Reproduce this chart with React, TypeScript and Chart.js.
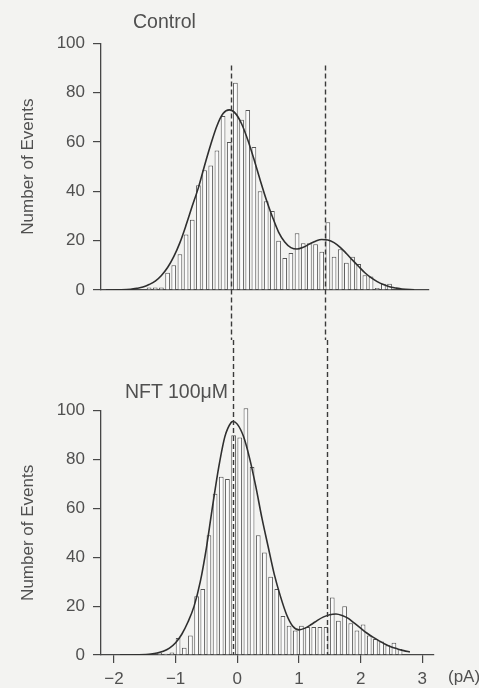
import React, { useEffect, useRef } from "react";
import { Chart, registerables } from "chart.js";

Chart.register(...registerables);

// ---------- data ----------
const Y_TICKS = [0, 20, 40, 60, 80, 100];
const X_TICKS = [-2, -1, 0, 1, 2, 3];

// Control panel
const CONTROL_BINS = [
  -1.4, -1.3, -1.2, -1.1, -1.0, -0.9, -0.8, -0.7, -0.6, -0.5,
  -0.4, -0.3, -0.2, -0.1, 0.0, 0.1, 0.2, 0.3, 0.4, 0.5,
  0.6, 0.7, 0.8, 0.9, 1.0, 1.1, 1.2, 1.3, 1.4, 1.5,
  1.6, 1.7, 1.8, 1.9, 2.0, 2.1, 2.2, 2.3, 2.4, 2.5,
];
const CONTROL_COUNTS = [
  1, 1, 1, 7, 10, 14.5, 22.5, 28.5, 42.5, 48.5,
  50.5, 56.5, 70.5, 60, 84, 69, 73, 58, 40, 36,
  32, 20, 13, 15, 23, 19, 19, 18.5, 15.5, 27.5,
  13.5, 16.5, 11, 13.5, 10.5, 6, 5.5, 0.8, 2.5, 2.5,
];
const CONTROL_FIT_X = [
  -2.1, -1.9, -1.7, -1.6, -1.5, -1.4, -1.3, -1.2, -1.1, -1.0,
  -0.9, -0.8, -0.7, -0.6, -0.5, -0.4, -0.3, -0.2, -0.1, 0.0,
  0.1, 0.2, 0.3, 0.4, 0.5, 0.6, 0.7, 0.8, 0.9, 1.0,
  1.1, 1.2, 1.3, 1.4, 1.5, 1.6, 1.7, 1.8, 1.9, 2.0,
  2.1, 2.2, 2.3, 2.4, 2.5, 2.6, 2.7, 2.9,
];
const CONTROL_FIT_Y = [
  0, 0.1, 0.3, 0.67, 1.2, 2.2, 3.6, 5.9, 9.1, 13.5,
  19.2, 26.3, 34, 41.5, 50.5, 59, 66.5, 71.5, 73, 71.6,
  67.4, 60.9, 53.1, 44.7, 36.7, 29.7, 23.5, 19.5, 17.2, 16.6,
  17.3, 18.6, 19.8, 20.5, 20.3, 19.2, 17.3, 14.8, 12.1, 9.5,
  7.0, 5.0, 3.4, 2.2, 1.3, 0.8, 0.4, 0.1,
];
const CONTROL_PEAKS = [-0.07, 1.46];

// NFT 100µM panel
const NFT_BINS = [
  -1.26, -1.16, -1.06, -0.96, -0.86, -0.76, -0.66, -0.56, -0.46, -0.36,
  -0.26, -0.16, -0.06, 0.04, 0.14, 0.24, 0.34, 0.44, 0.54, 0.64,
  0.74, 0.84, 0.94, 1.04, 1.14, 1.24, 1.34, 1.44, 1.54, 1.64,
  1.74, 1.84, 1.94, 2.04, 2.14, 2.24, 2.34, 2.44, 2.54, 2.64,
];
const NFT_COUNTS = [
  1, 0.5, 1, 7, 3, 8, 24, 27, 49, 66,
  73, 72, 90, 89, 101, 77, 49, 42, 32, 27,
  16, 12, 10, 12, 11.5, 11.5, 11.5, 11.5, 23.5, 14,
  20, 13, 10, 12.5, 8, 6.5, 5.5, 4, 5, 2.5,
];
const NFT_FIT_X = [
  -1.9, -1.6, -1.4, -1.3, -1.2, -1.1, -1.0, -0.9, -0.8, -0.7,
  -0.6, -0.5, -0.4, -0.3, -0.2, -0.1, -0.07, 0.0, 0.1, 0.2,
  0.3, 0.4, 0.5, 0.6, 0.7, 0.8, 0.9, 1.0, 1.1, 1.2,
  1.3, 1.4, 1.5, 1.6, 1.7, 1.8, 1.9, 2.0, 2.1, 2.2,
  2.3, 2.4, 2.5, 2.6, 2.7, 2.8,
];
const NFT_FIT_Y = [
  0, 0.1, 0.4, 0.8, 1.5, 2.8, 5, 8.5, 13.5, 20,
  30, 44, 61, 77, 89.5, 95.2, 95.6, 94.5, 89.5, 80.5,
  69, 56, 44.4, 33, 24, 16.5, 11.8, 10.3, 11, 12.5,
  14.2, 15.6, 16.5, 16.8, 16.2, 15, 13, 11, 9, 7.3,
  5.8, 4.4, 3.3, 2.5, 1.8, 1.2,
];
const NFT_PEAKS = [-0.07, 1.46];

// ---------- styling ----------
const FONT = "'Liberation Sans', Arial, Helvetica, sans-serif";
const TEXT = "#505050";
const AXIS = "#474747";
const BG = "#f3f3f1";

const peakLines = {
  id: "peakLines",
  afterDatasetsDraw(chart: any, _args: any, opts: any) {
    const { ctx } = chart;
    const x = chart.scales.x;
    const y = chart.scales.y;
    const y0 = opts.fromValue != null ? y.getPixelForValue(opts.fromValue) : 0;
    const y1 = opts.toCanvasBottom ? chart.height : y.getPixelForValue(0);
    ctx.save();
    ctx.setLineDash([5, 3]);
    ctx.lineWidth = 1.4;
    ctx.strokeStyle = "#3a3a3a";
    (opts.values || []).forEach((v: number) => {
      const px = Math.round(x.getPixelForValue(v)) + 0.5;
      ctx.beginPath();
      ctx.moveTo(px, y0);
      ctx.lineTo(px, y1);
      ctx.stroke();
    });
    ctx.restore();
  },
};

function fmtTick(v: number) {
  return v < 0 ? "\u2212" + Math.abs(v) : String(v);
}

interface PanelProps {
  bins: number[];
  counts: number[];
  fitX: number[];
  fitY: number[];
  peaks: number[];
  xMin: number;
  xMax: number;
  showXTicks: boolean;
  height: number;
  padding: { top: number; bottom: number; left: number; right: number };
  xAxisHeight: number;
  dashFrom: number | null;
  dashToCanvasBottom: boolean;
}

function Panel(p: PanelProps) {
  const ref = useRef<HTMLCanvasElement | null>(null);
  useEffect(() => {
    if (!ref.current) return;
    const chart = new Chart(ref.current, {
      data: {
        datasets: [
          {
            type: "line",
            data: p.fitX.map((x, i) => ({ x, y: p.fitY[i] })),
            borderColor: "#2f2f2f",
            borderWidth: 1.6,
            pointRadius: 0,
            fill: false,
            cubicInterpolationMode: "monotone",
            order: 0,
          } as any,
          {
            type: "bar",
            data: p.bins.map((x, i) => ({ x, y: p.counts[i] })),
            backgroundColor: "#fbfbfb",
            borderColor: "#555555",
            borderWidth: 1,
            barPercentage: 0.76,
            categoryPercentage: 1,
            clip: false,
            order: 1,
          } as any,
        ],
      },
      options: {
        responsive: false,
        animation: false,
        layout: { padding: p.padding },
        plugins: {
          legend: { display: false },
          tooltip: { enabled: false },
          title: { display: false },
          peakLines: {
            values: p.peaks,
            fromValue: p.dashFrom,
            toCanvasBottom: p.dashToCanvasBottom,
          },
        } as any,
        scales: {
          x: {
            type: "linear",
            min: p.xMin,
            max: p.xMax,
            offset: false,
            afterBuildTicks: (s: any) => {
              s.ticks = X_TICKS.map((v) => ({ value: v }));
            },
            afterFit: (s: any) => {
              s.height = p.xAxisHeight;
            },
            grid: {
              display: true,
              offset: false,
              drawOnChartArea: false,
              drawTicks: p.showXTicks,
              tickLength: 8,
              color: AXIS,
              lineWidth: 1.2,
            },
            border: { display: true, color: AXIS, width: 1.3 },
            ticks: {
              display: p.showXTicks,
              padding: 6,
              autoSkip: false,
              maxRotation: 0,
              color: TEXT,
              font: { family: FONT, size: 17 },
              callback: (v: any) => fmtTick(Number(v)),
            },
          },
          y: {
            type: "linear",
            min: 0,
            max: 100,
            afterBuildTicks: (s: any) => {
              s.ticks = Y_TICKS.map((v) => ({ value: v }));
            },
            afterFit: (s: any) => {
              s.width = 101;
            },
            grid: {
              display: true,
              drawOnChartArea: false,
              drawTicks: true,
              tickLength: 8,
              color: AXIS,
              lineWidth: 1.2,
            },
            border: { display: true, color: AXIS, width: 1.3 },
            ticks: {
              padding: 8,
              color: TEXT,
              font: { family: FONT, size: 17 },
            },
            title: {
              display: true,
              text: "Number of Events",
              color: TEXT,
              font: { family: FONT, size: 17 },
              padding: { top: 18, bottom: 0 },
            },
          },
        },
      } as any,
      plugins: [peakLines as any],
    });
    return () => chart.destroy();
  }, []);
  return <canvas ref={ref} width={479} height={p.height} style={{ display: "block" }} />;
}

const labelStyle: React.CSSProperties = {
  position: "absolute",
  fontFamily: FONT,
  color: TEXT,
  lineHeight: 1,
  whiteSpace: "nowrap",
};

export default function App() {
  return (
    <div
      style={{
        position: "absolute",
        left: 0,
        top: 0,
        width: 479,
        height: 688,
        background: BG,
        overflow: "hidden",
      }}
    >
      <div style={{ position: "absolute", left: 0, top: 0, width: 479, height: 340 }}>
        <Panel
          bins={CONTROL_BINS}
          counts={CONTROL_COUNTS}
          fitX={CONTROL_FIT_X}
          fitY={CONTROL_FIT_Y}
          peaks={CONTROL_PEAKS}
          xMin={-2.18}
          xMax={3.14}
          showXTicks={false}
          height={340}
          padding={{ top: 43.3, bottom: 50, left: 0, right: 50 }}
          xAxisHeight={0}
          dashFrom={91}
          dashToCanvasBottom={true}
        />
      </div>
      <div style={{ position: "absolute", left: 0, top: 340, width: 479, height: 348 }}>
        <Panel
          bins={NFT_BINS}
          counts={NFT_COUNTS}
          fitX={NFT_FIT_X}
          fitY={NFT_FIT_Y}
          peaks={NFT_PEAKS}
          xMin={-2.21}
          xMax={3.19}
          showXTicks={true}
          height={348}
          padding={{ top: 70.7, bottom: 0, left: 0, right: 45 }}
          xAxisHeight={33}
          dashFrom={null}
          dashToCanvasBottom={false}
        />
      </div>
      <div style={{ ...labelStyle, left: 133, top: 12, fontSize: 19.5 }}>Control</div>
      <div style={{ ...labelStyle, left: 125, top: 382, fontSize: 19.5 }}>NFT 100μM</div>
      <div style={{ ...labelStyle, left: 448, top: 668, fontSize: 17 }}>(pA)</div>
    </div>
  );
}
